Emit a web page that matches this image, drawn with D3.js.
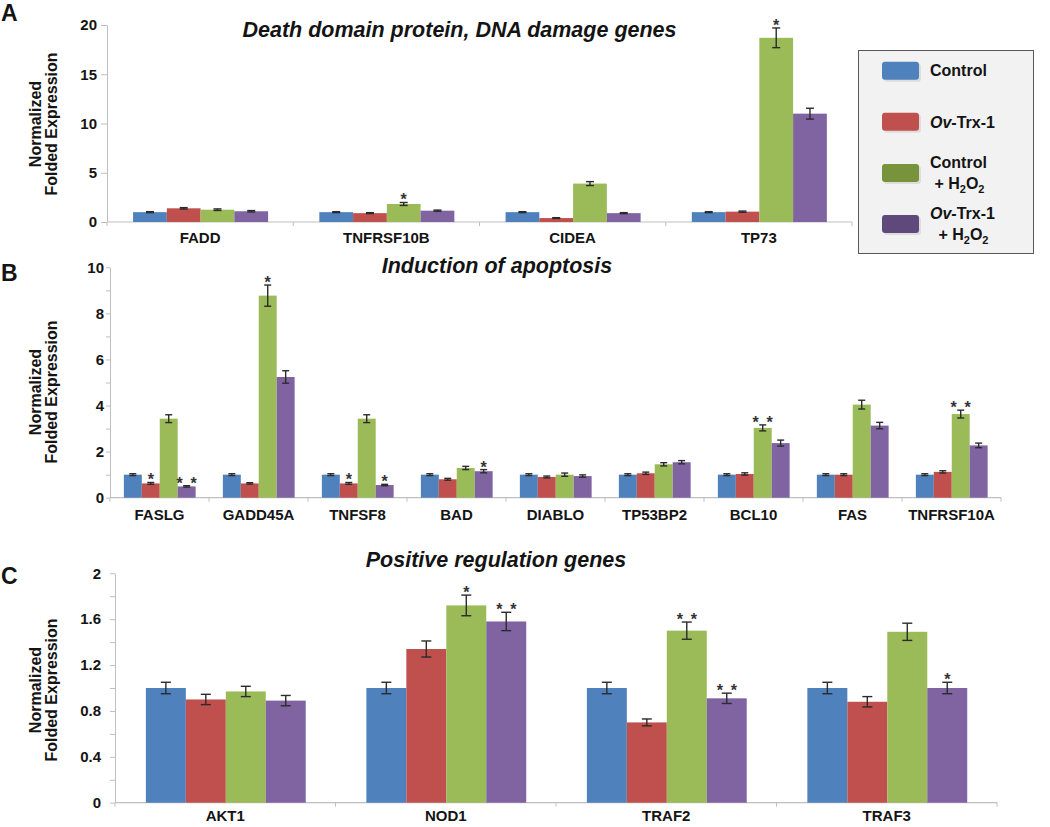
<!DOCTYPE html>
<html><head><meta charset="utf-8">
<script src="https://cdn.jsdelivr.net/npm/d3@7"></script>
<style>
html,body{margin:0;padding:0;background:#fff;}
svg{display:block;font-family:"Liberation Sans",Arial,sans-serif;}
</style></head><body>
<svg id="chart" width="1050" height="827"></svg>
<script>
// ---------- DATA ----------
const seriesNames = ["Control", "Ov-Trx-1", "Control + H2O2", "Ov-Trx-1 + H2O2"];

// Panel A
const titleA = "Death domain protein, DNA damage genes";
const genesA = ["FADD", "TNFRSF10B", "CIDEA", "TP73"];
const controlA = [1.0, 1.0, 1.0, 1.0];
const ovTrxA = [1.39, 0.9, 0.4, 1.05];
const controlH2O2A = [1.25, 1.83, 3.9, 18.7];
const ovTrxH2O2A = [1.09, 1.15, 0.9, 11.0];
const errControlA = [0.05, 0.05, 0.05, 0.05];
const errOvTrxA = [0.07, 0.05, 0.04, 0.06];
const errControlH2O2A = [0.08, 0.15, 0.2, 1.0];
const errOvTrxH2O2A = [0.07, 0.06, 0.05, 0.55];
const starsControlA = ["", "", "", ""];
const starsOvTrxA = ["", "", "", ""];
const starsControlH2O2A = ["", "*", "", "*"];
const starsOvTrxH2O2A = ["", "", "", ""];
const ticksA = [0, 5, 10, 15, 20];
const minorTicksA = [0, 5, 10, 15, 20];

// Panel B
const titleB = "Induction of apoptosis";
const genesB = ["FASLG", "GADD45A", "TNFSF8", "BAD", "DIABLO", "TP53BP2", "BCL10", "FAS", "TNFRSF10A"];
const controlB = [1.0, 1.0, 1.0, 1.0, 1.0, 1.0, 1.0, 1.0, 1.0];
const ovTrxB = [0.62, 0.62, 0.62, 0.8, 0.9, 1.06, 1.03, 1.0, 1.12];
const controlH2O2B = [3.43, 8.77, 3.43, 1.29, 1.0, 1.45, 3.03, 4.04, 3.63];
const ovTrxH2O2B = [0.49, 5.24, 0.55, 1.15, 0.94, 1.54, 2.37, 3.13, 2.27];
const errControlB = [0.04, 0.04, 0.04, 0.04, 0.04, 0.04, 0.04, 0.04, 0.04];
const errOvTrxB = [0.04, 0.03, 0.04, 0.04, 0.04, 0.05, 0.05, 0.04, 0.05];
const errControlH2O2B = [0.17, 0.46, 0.17, 0.07, 0.07, 0.07, 0.13, 0.19, 0.17];
const errOvTrxH2O2B = [0.03, 0.27, 0.03, 0.07, 0.05, 0.07, 0.13, 0.14, 0.1];
const starsControlB = ["", "", "", "", "", "", "", "", ""];
const starsOvTrxB = ["*", "", "*", "", "", "", "", "", ""];
const starsControlH2O2B = ["", "*", "", "", "", "", "**", "", "**"];
const starsOvTrxH2O2B = ["**", "", "*", "*", "", "", "", "", ""];
const ticksB = [0, 2, 4, 6, 8, 10];
const minorTicksB = [0, 1, 2, 3, 4, 5, 6, 7, 8, 9, 10];

// Panel C
const titleC = "Positive regulation genes";
const genesC = ["AKT1", "NOD1", "TRAF2", "TRAF3"];
const controlC = [1.0, 1.0, 1.0, 1.0];
const ovTrxC = [0.9, 1.34, 0.7, 0.88];
const controlH2O2C = [0.97, 1.72, 1.5, 1.49];
const ovTrxH2O2C = [0.89, 1.58, 0.91, 1.0];
const errControlC = [0.05, 0.05, 0.05, 0.05];
const errOvTrxC = [0.045, 0.07, 0.03, 0.045];
const errControlH2O2C = [0.045, 0.09, 0.075, 0.075];
const errOvTrxH2O2C = [0.045, 0.08, 0.045, 0.05];
const starsControlC = ["", "", "", ""];
const starsOvTrxC = ["", "", "", ""];
const starsControlH2O2C = ["", "*", "**", ""];
const starsOvTrxH2O2C = ["", "**", "**", "*"];
const ticksC = [0, 0.4, 0.8, 1.2, 1.6, 2];
const minorTicksC = [0, 0.2, 0.4, 0.6, 0.8, 1.0, 1.2, 1.4, 1.6, 1.8, 2];

// ---------- STYLE / LAYOUT ----------
const barColors = ["#4f81bd", "#c0504d", "#9bbb59", "#8064a2"];
const legendColors = ["#4f81bd", "#c0504d", "#77933c", "#5f497a"];
const axisColor = "#bfbfbf";
const textColor = "#141414";

const svg = d3.select("#chart");

function richText(sel, str) {
  // italic "Ov", subscript 2 in H2O2
  const parts = [];
  let rest = str;
  if (rest.startsWith("Ov")) { parts.push({t: "Ov", it: true}); rest = rest.slice(2); }
  const idx = rest.indexOf("H2O2");
  if (idx >= 0) {
    parts.push({t: rest.slice(0, idx)});
    parts.push({t: "H"}); parts.push({t: "2", sub: true});
    parts.push({t: "O"}); parts.push({t: "2", sub: true});
    parts.push({t: rest.slice(idx + 4)});
  } else parts.push({t: rest});
  let shifted = false;
  parts.filter(p => p.t.length).forEach(p => {
    const ts = sel.append("tspan").text(p.t);
    if (p.it) ts.attr("font-style", "italic");
    if (p.sub) { ts.attr("font-size", 11).attr("dy", shifted ? 0 : 4); shifted = true; }
    else if (shifted) { ts.attr("dy", -4); shifted = false; }
  });
}

function drawPanel(p) {
  const L = p.layout;
  const g = svg.append("g");
  const x = d3.scaleBand().domain(p.genes).range([L.x0, L.x1]).paddingInner(0).paddingOuter(0);
  const xs = d3.scaleBand().domain(d3.range(4)).range([x.bandwidth() * 0.14, x.bandwidth() * 0.865]);
  const y = d3.scaleLinear().domain([0, p.yMax]).range([L.y0, L.y1]);

  // y axis
  const yAxis = d3.axisLeft(y).tickValues(p.minorTicks).tickSize(L.tickLen).tickSizeOuter(0)
    .tickPadding(L.tickPad)
    .tickFormat(d => p.ticks.some(t => Math.abs(t - d) < 1e-9) ? String(d) : "");
  const ya = g.append("g").attr("transform", `translate(${L.x0},0)`).call(yAxis);
  ya.select(".domain").attr("stroke", axisColor);
  ya.selectAll(".tick line").attr("stroke", axisColor);
  ya.selectAll(".tick text").attr("font-size", 15).attr("font-weight", "bold")
    .attr("fill", textColor).attr("font-family", "Liberation Sans, Arial, sans-serif");

  // x axis
  g.append("line").attr("x1", L.x0).attr("x2", L.x1).attr("y1", L.y0).attr("y2", L.y0)
    .attr("stroke", axisColor).attr("stroke-width", 1.2);
  const bounds = p.genes.map(d => x(d)).concat([x.range()[1]]);
  g.selectAll(".xt").data(bounds).join("line")
    .attr("x1", d => d).attr("x2", d => d).attr("y1", L.y0).attr("y2", L.y0 + 4)
    .attr("stroke", axisColor);
  g.selectAll(".xl").data(p.genes).join("text")
    .attr("x", d => x(d) + x.bandwidth() / 2).attr("y", L.y0 + L.catDy)
    .attr("text-anchor", "middle").attr("font-size", 15).attr("font-weight", "bold")
    .attr("fill", textColor).text(d => d);

  // bars
  const rows = [];
  p.genes.forEach((gene, i) => {
    for (let s = 0; s < 4; s++) {
      rows.push({gene, s, v: p.values[s][i], e: p.errors[s][i], star: p.stars[s][i]});
    }
  });
  g.selectAll(".bar").data(rows).join("rect")
    .attr("x", d => x(d.gene) + xs(d.s)).attr("width", xs.bandwidth())
    .attr("y", d => y(d.v)).attr("height", d => y(0) - y(d.v))
    .attr("fill", d => barColors[d.s]);

  // error bars
  const cx = d => x(d.gene) + xs(d.s) + xs.bandwidth() / 2;
  const eg = g.append("g").attr("stroke", "#2b2b2b").attr("stroke-width", 1.4);
  eg.selectAll(".ev").data(rows).join("line")
    .attr("x1", cx).attr("x2", cx).attr("y1", d => y(d.v - d.e)).attr("y2", d => y(d.v + d.e));
  eg.selectAll(".et").data(rows).join("line")
    .attr("x1", d => cx(d) - L.cap).attr("x2", d => cx(d) + L.cap)
    .attr("y1", d => y(d.v + d.e)).attr("y2", d => y(d.v + d.e));
  eg.selectAll(".eb").data(rows).join("line")
    .attr("x1", d => cx(d) - L.cap).attr("x2", d => cx(d) + L.cap)
    .attr("y1", d => y(d.v - d.e)).attr("y2", d => y(d.v - d.e));

  // significance stars
  const starRows = [];
  rows.filter(d => d.star).forEach(d => {
    const n = d.star.length;
    for (let k = 0; k < n; k++) starRows.push({d, off: (k - (n - 1) / 2) * 14});
  });
  g.selectAll(".star").data(starRows).join("text")
    .attr("x", r => cx(r.d) + r.off).attr("y", r => y(r.d.v + r.d.e) + 3)
    .attr("text-anchor", "middle").attr("font-size", 16).attr("font-weight", "bold")
    .attr("fill", "#333").text("*");

  // title
  g.append("text").attr("x", L.titleX).attr("y", L.titleY).attr("text-anchor", "middle")
    .attr("font-size", 21.5).attr("font-weight", "bold").attr("font-style", "italic")
    .attr("fill", textColor).text(p.title);

  // panel letter
  g.append("text").attr("x", 1).attr("y", L.letterY).attr("font-size", 23)
    .attr("font-weight", "bold").attr("fill", textColor).text(p.letter);

  // y title
  const yt = g.append("text").attr("transform", `translate(0,${L.yTitleCY}) rotate(-90)`)
    .attr("text-anchor", "middle").attr("font-size", 16).attr("font-weight", "bold").attr("fill", textColor);
  yt.append("tspan").attr("x", 0).attr("y", 41).text("Normalized");
  yt.append("tspan").attr("x", 0).attr("y", 57).text("Folded Expression");
}

drawPanel({
  letter: "A", title: titleA, genes: genesA, yMax: 20, ticks: ticksA, minorTicks: minorTicksA,
  values: [controlA, ovTrxA, controlH2O2A, ovTrxH2O2A],
  errors: [errControlA, errOvTrxA, errControlH2O2A, errOvTrxH2O2A],
  stars: [starsControlA, starsOvTrxA, starsControlH2O2A, starsOvTrxH2O2A],
  layout: {x0: 107, x1: 852, y0: 222, y1: 25, tickLen: 6, tickPad: 4, catDy: 21, cap: 4,
           titleX: 459.5, titleY: 37, letterY: 21, yTitleCY: 124}
});
drawPanel({
  letter: "B", title: titleB, genes: genesB, yMax: 10, ticks: ticksB, minorTicks: minorTicksB,
  values: [controlB, ovTrxB, controlH2O2B, ovTrxH2O2B],
  errors: [errControlB, errOvTrxB, errControlH2O2B, errOvTrxH2O2B],
  stars: [starsControlB, starsOvTrxB, starsControlH2O2B, starsOvTrxH2O2B],
  layout: {x0: 110, x1: 1001, y0: 497.7, y1: 267.3, tickLen: 4, tickPad: 2, catDy: 22, cap: 3.5,
           titleX: 497, titleY: 273, letterY: 281, yTitleCY: 392}
});
drawPanel({
  letter: "C", title: titleC, genes: genesC, yMax: 2, ticks: ticksC, minorTicks: minorTicksC,
  values: [controlC, ovTrxC, controlH2O2C, ovTrxH2O2C],
  errors: [errControlC, errOvTrxC, errControlH2O2C, errOvTrxH2O2C],
  stars: [starsControlC, starsOvTrxC, starsControlH2O2C, starsOvTrxH2O2C],
  layout: {x0: 115, x1: 997, y0: 802.7, y1: 573.3, tickLen: 5, tickPad: 9, catDy: 18, cap: 5,
           titleX: 496, titleY: 567, letterY: 584, yTitleCY: 690}
});

// ---------- LEGEND ----------
const lg = svg.append("g");
lg.append("rect").attr("x", 858.5).attr("y", 50.5).attr("width", 175).attr("height", 203)
  .attr("fill", "#f2f2f2").attr("stroke", "#595959").attr("stroke-width", 1);
const legendCY = d3.scaleLinear().domain([0, 3]).range([70.7, 224]);
const legendLines = seriesNames.map(n => {
  const i = n.indexOf(" + ");
  return i >= 0 ? [n.slice(0, i), n.slice(i + 1)] : [n];
});
seriesNames.forEach((n, i) => {
  const cy = legendCY(i);
  lg.append("rect").attr("x", 883).attr("y", cy - 8.5).attr("width", 37).attr("height", 18)
    .attr("rx", 3).attr("fill", "#cfcfcf").attr("opacity", 0.6).attr("transform", "translate(1,1.5)");
  lg.append("rect").attr("x", 882).attr("y", cy - 9).attr("width", 37).attr("height", 18)
    .attr("rx", 3).attr("fill", legendColors[i]);
  const lines = legendLines[i];
  if (lines.length === 1) {
    const t = lg.append("text").attr("x", 930).attr("y", cy + 5.7).attr("font-size", 16)
      .attr("font-weight", "bold").attr("fill", textColor);
    richText(t, lines[0]);
  } else {
    const t1 = lg.append("text").attr("x", 930).attr("y", cy - 5.3).attr("font-size", 16)
      .attr("font-weight", "bold").attr("fill", textColor);
    richText(t1, lines[0]);
    const w = t1.node().getComputedTextLength();
    const t2 = lg.append("text").attr("x", 930 + w / 2 + 1).attr("y", cy + 15.7).attr("font-size", 16)
      .attr("text-anchor", "middle").attr("font-weight", "bold").attr("fill", textColor);
    richText(t2, lines[1]);
  }
});
</script>
</body></html>
